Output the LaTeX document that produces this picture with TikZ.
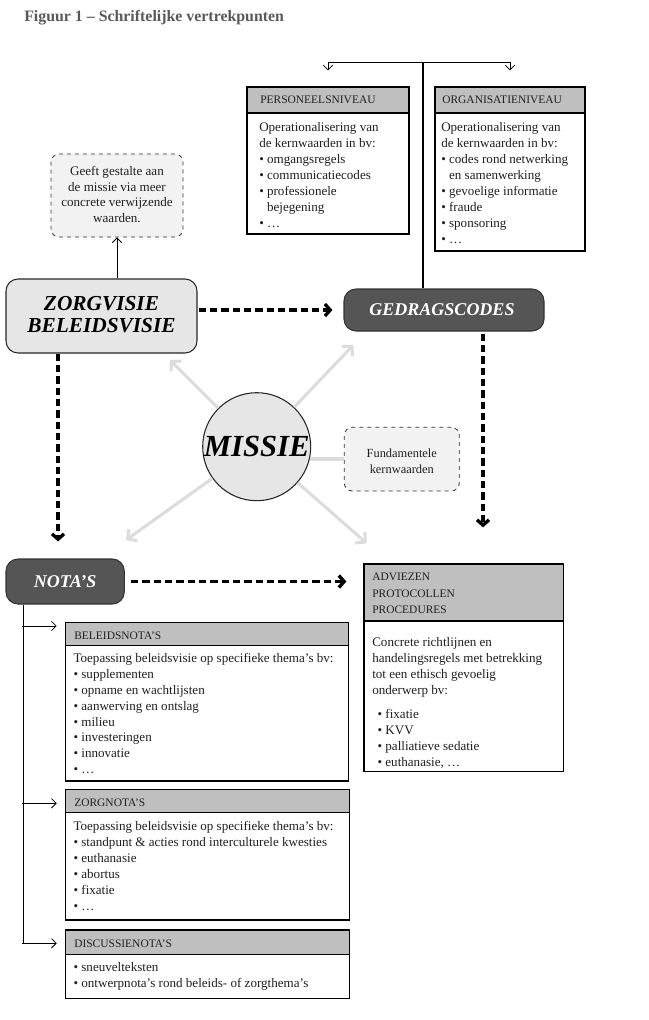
\documentclass[tikz,border=0pt]{standalone}
\usepackage{fontspec}
\setmainfont{Liberation Serif}
\usetikzlibrary{arrows.meta,fit,calc}
\definecolor{hdrgray}{HTML}{BFBFBF}
\definecolor{lightfill}{HTML}{E6E6E7}
\definecolor{darkfill}{HTML}{555555}
\definecolor{dashfill}{HTML}{F2F2F2}
\definecolor{arrowgray}{HTML}{DCDCDC}
\definecolor{titlegray}{HTML}{58595B}
\definecolor{txt}{HTML}{231F20}
\newcommand\topstrut{\rule{0pt}{7.5pt}}
\begin{document}
\begin{tikzpicture}[x=0.75pt,y=-0.75pt,
  box/.style={draw=black, line width=0.9pt, inner sep=0pt, fill=white},
  hdr/.style={box, fill=hdrgray},
  bodytxt/.style={anchor=north west, inner sep=0pt, align=left, text=txt, font=\fontsize{9.8}{11.9}\selectfont},
  hdrtxt/.style={anchor=base west, inner sep=0pt, text=txt, font=\fontsize{8.6}{12.1}\selectfont},
  ctxt/.style={inner sep=0pt, align=center},
  rbox/.style={draw=black!85, line width=0.8pt, rounded corners=9pt, inner sep=0pt},
  dbox/.style={draw=black!80, dashed, line width=0.6pt, rounded corners=6pt, fill=dashfill, inner sep=0pt},
  thickdash/.style={line width=2.5pt, dash pattern=on 5.5pt off 3pt, -{Straight Barb[length=4pt,width=9pt]}},
  conn/.style={line width=0.6pt},
  connarr/.style={conn, -{Straight Barb[length=3.5pt,width=7pt]}},
  grayarr/.style={line width=2.3pt, draw=arrowgray, -{Straight Barb[length=5pt,width=11pt]}},
  grayline/.style={line width=2.8pt, draw=arrowgray}
]
\useasboundingbox (0,0) rectangle (649,1020);

% title
\node[anchor=base west, inner sep=0pt, text=titlegray, font=\fontsize{11.9}{14}\selectfont\bfseries] (title) at (24,22) {Figuur 1 – Schriftelijke vertrekpunten};

% PERSONEELSNIVEAU
\node[box, fit={(247,87)(409,234)}] (pers) {};
\node[hdr, fit={(247,87)(409,113)}] (persH) {};
\node[hdrtxt] (persHt) at (260,104) {PERSONEELSNIVEAU};
\node[bodytxt] (persT) at (259,121.7) {\topstrut Operationalisering van\\de kernwaarden in bv:\\• omgangsregels\\• communicatiecodes\\• professionele\\\phantom{•\ }bejegening\\• …};

% ORGANISATIENIVEAU
\node[box, fit={(435,87)(585,251)}] (org) {};
\node[hdr, fit={(435,87)(585,113)}] (orgH) {};
\node[hdrtxt] (orgHt) at (442,104) {ORGANISATIENIVEAU};
\node[bodytxt] (orgT) at (441,121.7) {\topstrut Operationalisering van\\de kernwaarden in bv:\\• codes rond netwerking\\\phantom{•\ }en samenwerking\\• gevoelige informatie\\• fraude\\• sponsoring\\• …};

% Geeft gestalte
\node[dbox, fit={(51,154)(183,237)}] (geeft) {};
\node[ctxt, text=txt, font=\fontsize{9.8}{11.85}\selectfont] (geeftT) at ($(geeft.center)+(0,-1)$) {Geeft gestalte aan\\de missie via meer\\concrete verwijzende\\waarden.};

% ZORGVISIE
\node[rbox, fill=lightfill, fit={(6,279)(197,353)}] (zorg) {};
\node[ctxt, font=\fontsize{16}{16.5}\selectfont\bfseries\itshape] (zorgT) at ($(zorg.center)+(0,-1)$) {ZORGVISIE\\BELEIDSVISIE};

% GEDRAGSCODES
\node[rbox, fill=darkfill, draw=black!80, fit={(344,289)(544,331)}] (gedrag) {};
\node[ctxt, text=white, font=\fontsize{13.5}{14}\selectfont\bfseries\itshape] (gedragT) at ($(gedrag.center)+(-2,0)$) {GEDRAGSCODES};

% MISSIE
\node[circle, draw=black!85, line width=0.8pt, fill=lightfill, minimum size=81pt, inner sep=0pt, font=\fontsize{23}{24}\selectfont\bfseries\itshape] (missie) at (256.7,446.7) {MISSIE};

% Fundamentele kernwaarden
\node[dbox, fit={(344.3,427.3)(459.3,491)}] (fund) {};
\node[ctxt, text=txt, font=\fontsize{9.3}{12.5}\selectfont] (fundT) at ($(fund.center)+(0,2)$) {Fundamentele\\kernwaarden};

% NOTA'S
\node[rbox, fill=darkfill, draw=black!80, fit={(6,559)(124.3,604)}] (nota) {};
\node[ctxt, text=white, font=\fontsize{13.5}{14}\selectfont\bfseries\itshape] (notaT) at (nota.center) {NOTA’S};

% ADVIEZEN
\node[box, fit={(364,564)(563.3,771.7)}] (adv) {};
\node[hdr, fit={(364,564)(563.3,621)}] (advH) {};
\node[hdrtxt, anchor=north west, align=left] (advHt) at (372,570.7) {\topstrut ADVIEZEN\\PROTOCOLLEN\\PROCEDURES};
\node[bodytxt] (advT) at (372,636.7) {\topstrut Concrete richtlijnen en\\handelingsregels met betrekking\\tot een ethisch gevoelig\\onderwerp bv:\\[6.4pt]\hspace*{4pt}• fixatie\\\hspace*{4pt}• KVV\\\hspace*{4pt}• palliatieve sedatie\\\hspace*{4pt}• euthanasie, …};

% BELEIDSNOTA'S
\node[box, fit={(65.3,622.3)(348.7,781)}] (bel) {};
\node[hdr, fit={(65.3,622.3)(348.7,645.7)}] (belH) {};
\node[hdrtxt] (belHt) at (74,639) {BELEIDSNOTA’S};
\node[bodytxt] (belT) at (73.3,652.3) {\topstrut Toepassing beleidsvisie op specifieke thema’s bv:\\• supplementen\\• opname en wachtlijsten\\• aanwerving en ontslag\\• milieu\\• investeringen\\• innovatie\\• …};

% ZORGNOTA'S
\node[box, fit={(65.3,789.3)(349.3,920)}] (zn) {};
\node[hdr, fit={(65.3,789.3)(349.3,812.3)}] (znH) {};
\node[hdrtxt] (znHt) at (74,806.7) {ZORGNOTA’S};
\node[bodytxt] (znT) at (73.3,820.7) {\topstrut Toepassing beleidsvisie op specifieke thema’s bv:\\• standpunt \& acties rond interculturele kwesties\\• euthanasie\\• abortus\\• fixatie\\• …};

% DISCUSSIENOTA'S
\node[box, fit={(65.3,930)(349.3,998.3)}] (dn) {};
\node[hdr, fit={(65.3,930)(349.3,954.3)}] (dnH) {};
\node[hdrtxt] (dnHt) at (74,947.3) {DISCUSSIENOTA’S};
\node[bodytxt] (dnT) at (73.3,961.7) {\topstrut • sneuvelteksten\\• ontwerpnota’s rond beleids- of zorgthema’s};

% ---- connectors ----
\coordinate (top) at (423,62);
\draw[line width=1.1pt] (gedrag.north -| top) -- (top);
\draw[connarr] (top) -| ($(persH.north)+(0,-16)$);
\draw[connarr] (top) -| ($(orgH.north)+(0,-16)$);

\draw[connarr] (geeft.south |- zorg.north) -- (geeft.south);

% gray arrows from MISSIE
\coordinate (gUL) at (170,360);
\coordinate (gUR) at (353.3,345);
\coordinate (gLL) at (126,540);
\coordinate (gLR) at (366.7,543.3);
\draw[grayarr] (missie) -- (gUL);
\draw[grayarr] (missie) -- (gUR);
\draw[grayarr] (missie) -- (gLL);
\draw[grayarr] (missie) -- (gLR);
\draw[grayline] (fund.west -| missie.-14) -- (fund.west);

% thick dashed arrows
\draw[thickdash] ($(zorg.east |- gedrag.west)+(1,0)$) -- ($(gedrag.west)+(-11,0)$);
\coordinate (zx) at (58,0);
\draw[thickdash] (zorg.south -| zx) -- ($(nota.north -| zx)+(0,-17)$);
\coordinate (gx) at (483,0);
\draw[thickdash] ($(gedrag.south -| gx)+(0,2)$) -- ($(adv.north -| gx)+(0,-36)$);
\draw[thickdash] ($(nota.east)+(6,0)$) -- ($(nota.east -| adv.west)+(-17,0)$);

% tree of notas
\coordinate (tx) at (23,0);
\coordinate (a1) at ($(belH.west |- 0,626)+(-8,0)$);
\coordinate (a2) at ($(znH.west |- 0,803.3)+(-8,0)$);
\coordinate (a3) at ($(dnH.west |- 0,943.3)+(-8,0)$);
\draw[conn] (nota.south -| tx) -- (tx |- a3);
\draw[connarr] ($(tx |- a1)+(-1,0)$) -- (a1);
\draw[connarr] ($(tx |- a2)+(-1,0)$) -- (a2);
\draw[connarr] ($(tx |- a3)+(-1,0)$) -- (a3);
\end{tikzpicture}
\end{document}
